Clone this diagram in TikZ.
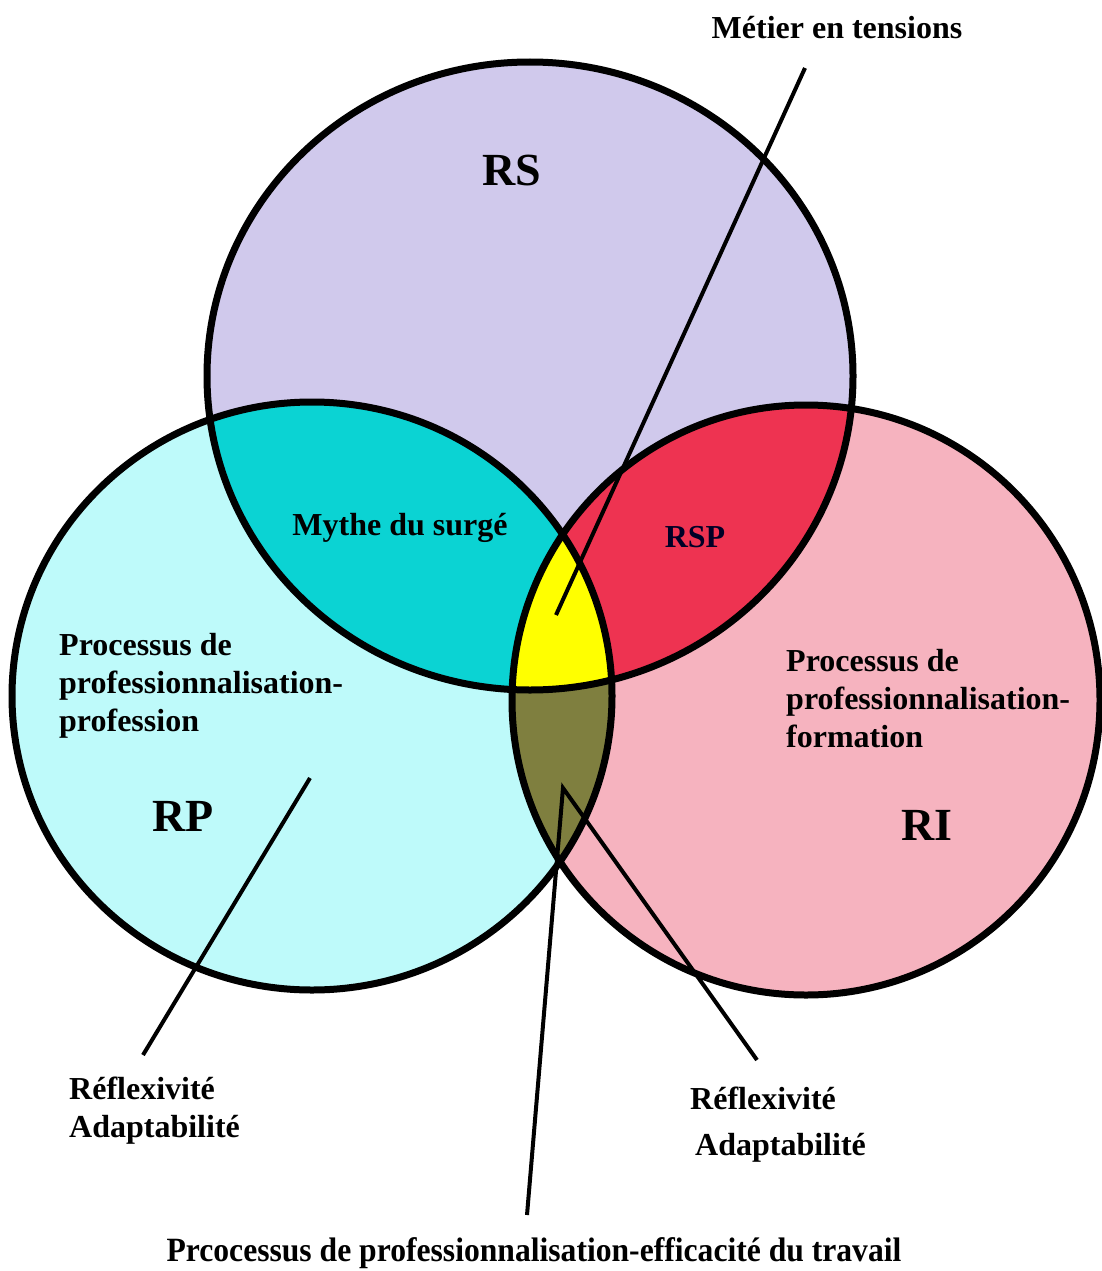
\documentclass[tikz,border=0pt]{standalone}
\usepackage{fontspec}
\setmainfont{Liberation Serif}
\definecolor{rscol}{HTML}{D0C9EC}
\definecolor{rpcol}{HTML}{BEFAFA}
\definecolor{ricol}{HTML}{F6B3BF}
\definecolor{tealcol}{HTML}{0BD3D3}
\definecolor{redcol}{HTML}{EE3351}
\definecolor{yelcol}{HTML}{FFFF00}
\definecolor{olvcol}{HTML}{7F7F3F}
\begin{document}
\begin{tikzpicture}[x=1pt,y=-1pt,
  outline/.style={draw=black,line width=7pt},
  conn/.style={draw=black,line width=4pt},
  lbl/.style={font=\bfseries\fontsize{32}{38}\selectfont,inner sep=0pt,align=left},
  big/.style={font=\bfseries\fontsize{46}{50}\selectfont,inner sep=0pt}]
\useasboundingbox (0,0) rectangle (1101,1271);
\fill[white] (0,0) rectangle (1101,1271);
\def\RSpath{(530,376) ellipse [x radius=323pt, y radius=314pt]}
\def\RPpath{(312,696) ellipse [x radius=300pt, y radius=294pt]}
\def\RIpath{(806,700) ellipse [x radius=294pt, y radius=295pt]}
\fill[rscol] \RSpath;
\fill[rpcol] \RPpath;
\fill[ricol] \RIpath;
\begin{scope}\clip \RSpath; \fill[tealcol] \RPpath; \end{scope}
\begin{scope}\clip \RSpath; \fill[redcol] \RIpath; \end{scope}
\begin{scope}\clip \RPpath; \fill[olvcol] \RIpath; \end{scope}
\begin{scope}\clip \RSpath; \clip \RPpath; \fill[yelcol] \RIpath; \end{scope}
\draw[outline] \RSpath;
\draw[outline] \RPpath;
\draw[outline] \RIpath;
% labels
\node[big] (rs) at (512,170) {RS};
\node[big] (rp) at (183,816) {RP};
\node[big] (ri) at (927,825) {RI};
\node[lbl] (mythe) at (400,528) {Mythe du surgé};
\node[lbl,text=black!85!blue] (rsp) at (695,537) {RSP};
\node[lbl,anchor=west] (ppp) at (59,686) {Processus de\\professionnalisation-\\profession};
\node[lbl,anchor=west] (ppf) at (786,699) {Processus de\\professionnalisation-\\formation};
\node[lbl] (metier) at (837,28) {Métier en tensions};
\node[lbl,anchor=west] (refl1) at (69,1111) {Réflexivité\\Adaptabilité};
\node[lbl,anchor=west] (refl2a) at (690,1098) {Réflexivité};
\node[lbl,anchor=west] (refl2b) at (695,1148) {Adaptabilité};
\node[lbl,font=\bfseries\fontsize{34}{38}\selectfont,xscale=0.93] (pcet) at (534,1253) {Prcocessus de professionnalisation-efficacité du travail};
% connectors
\coordinate (mtA) at (805,68);
\coordinate (mtB) at (556,615);
\coordinate (rpA) at (143,1055);
\coordinate (rpB) at (310,778);
\coordinate (olv) at (563,788);
\coordinate (botA) at (527,1215);
\coordinate (riA) at (757,1060);
\draw[conn] (mtA) -- (mtB);
\draw[conn] (rpA) -- (rpB);
\draw[conn,line join=miter] (botA) -- (olv) -- (riA);
\end{tikzpicture}
\end{document}
